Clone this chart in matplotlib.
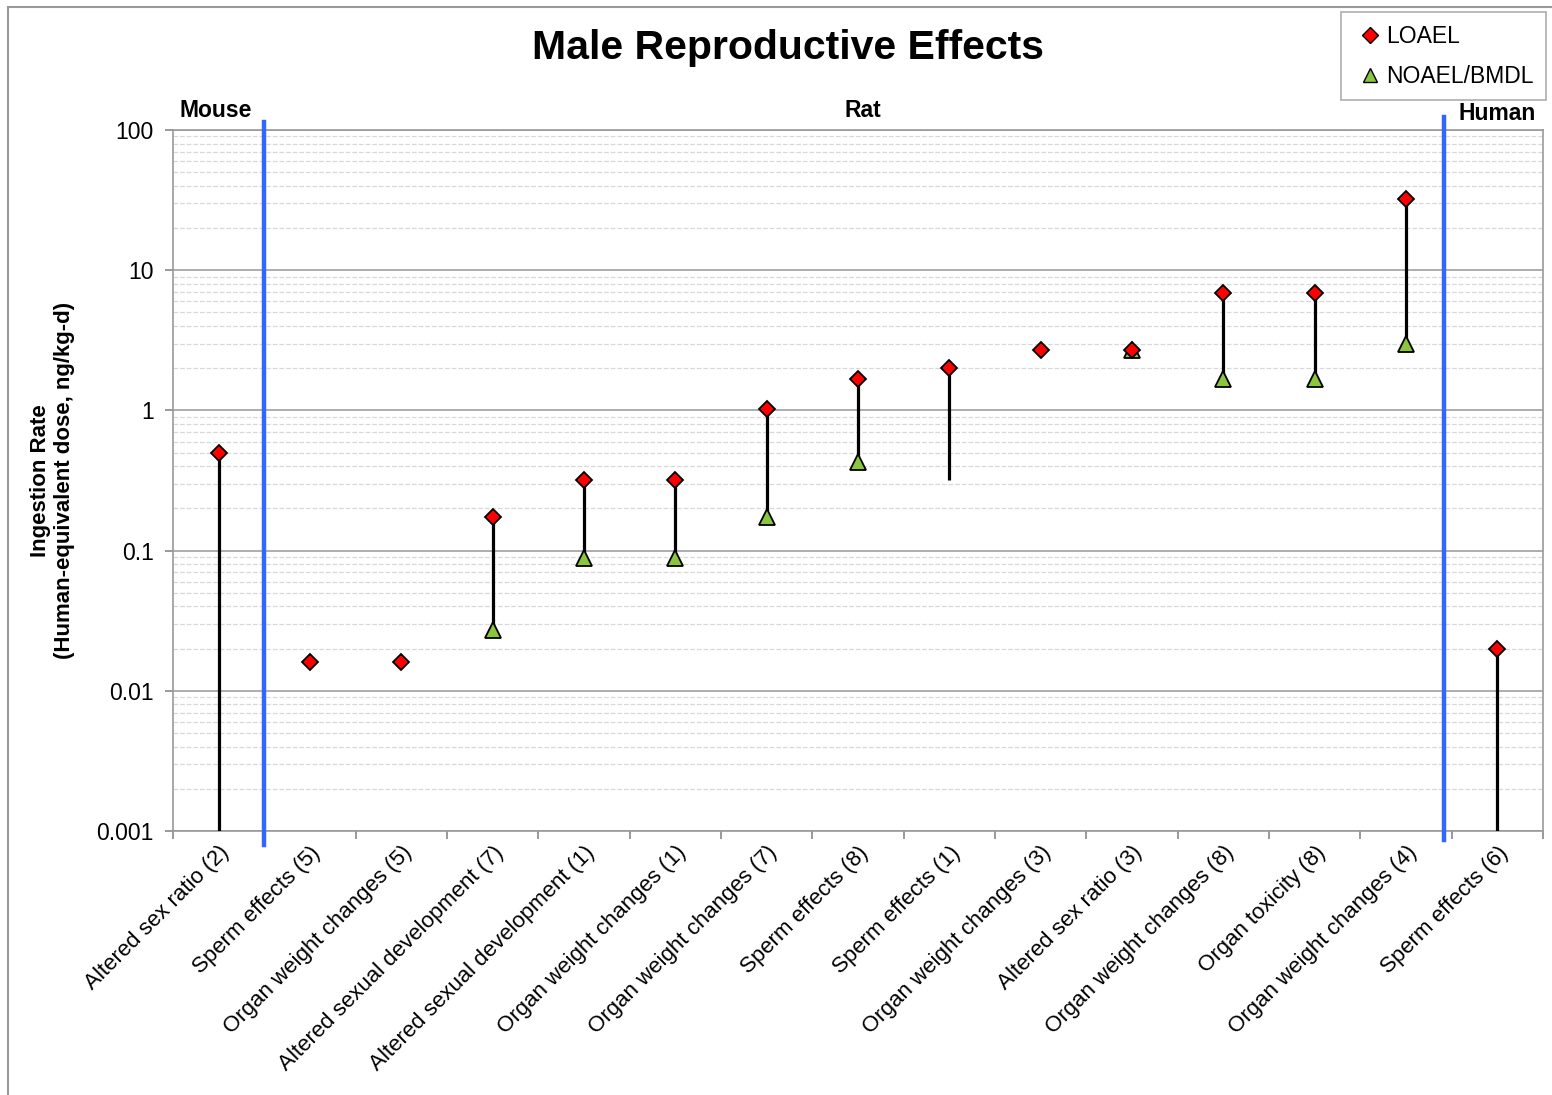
import numpy as np
import matplotlib.pyplot as plt
from matplotlib.lines import Line2D
from matplotlib.patches import Rectangle
from matplotlib.ticker import FixedLocator, NullFormatter, LogLocator

plt.rcParams['font.family'] = ['Liberation Sans', 'DejaVu Sans']

categories = [
    "Altered sex ratio (2)", "Sperm effects (5)", "Organ weight changes (5)",
    "Altered sexual development (7)", "Altered sexual development (1)",
    "Organ weight changes (1)", "Organ weight changes (7)", "Sperm effects (8)",
    "Sperm effects (1)", "Organ weight changes (3)", "Altered sex ratio (3)",
    "Organ weight changes (8)", "Organ toxicity (8)", "Organ weight changes (4)",
    "Sperm effects (6)",
]
loael = [0.5, 0.016, 0.016, 0.175, 0.32, 0.32, 1.03, 1.67, 2.0, 2.7, 2.7,
         6.9, 6.9, 32, 0.02]
noael = [np.nan, np.nan, np.nan, 0.027, 0.088, 0.088, 0.175, 0.43, np.nan,
         np.nan, 2.7, 1.67, 1.67, 3.0, np.nan]
# lower end of the vertical range line (nan = no line)
range_low = [0.001, np.nan, np.nan, 0.027, 0.088, 0.088, 0.175, 0.43, 0.32,
             np.nan, 2.7, 1.67, 1.67, 3.0, 0.001]
species = ["Mouse", "Rat", "Human"]
species_x = [0.97, 8.05, 15]
divider_x = [1.5, 14.42]

x = np.arange(1, len(categories) + 1)
loael = np.array(loael)
noael = np.array(noael)
range_low = np.array(range_low)

fig = plt.figure(figsize=(15.52, 10.95), dpi=100)
ax = fig.add_axes([173 / 1552, 1 - 831 / 1095, 1370 / 1552, 701 / 1095])

ax.set_yscale('log')
ax.set_ylim(0.001, 100)
ax.set_xlim(0.5, len(categories) + 0.5)

# grid
ax.yaxis.set_major_locator(FixedLocator([0.001, 0.01, 0.1, 1, 10, 100]))
ax.yaxis.set_minor_locator(LogLocator(base=10, subs=np.arange(2, 10)))
ax.yaxis.set_minor_formatter(NullFormatter())
ax.set_yticklabels(["0.001", "0.01", "0.1", "1", "10", "100"], fontsize=16.5)
ax.grid(axis='y', which='major', color='#a0a0a0', lw=1.2)
ax.grid(axis='y', which='minor', color='#d8d8d8', lw=0.9, ls='--')
ax.set_axisbelow(True)
ax.tick_params(axis='y', which='major', length=6, color='#888888', width=1.2,
               pad=8)
ax.tick_params(axis='y', which='minor', length=0)

ax.set_xticks(x)
ax.set_xticklabels(categories, rotation=45, ha='right', va='top',
                   rotation_mode='anchor', fontsize=16)
ax.set_xticks(np.arange(0.5, len(categories) + 1), minor=True)
ax.tick_params(axis='x', which='major', length=0, pad=8)
ax.tick_params(axis='x', which='minor', length=6, color='#888888', width=1.2)

for s in ax.spines.values():
    s.set_color('#999999')
    s.set_linewidth(1.2)

# range lines
has_line = ~np.isnan(range_low)
ax.vlines(x[has_line], range_low[has_line], loael[has_line], color='black',
          lw=2.3, zorder=3)

ax.plot(x, noael, ls='none', marker='^', ms=12, mfc='#8cc63f', mec='black',
        mew=1.3, zorder=4)
ax.plot(x, loael, ls='none', marker='D', ms=8.5, mfc='#ff0000', mec='black',
        mew=1.3, zorder=5)

# species dividers
ax.plot([divider_x[0]] * 2, [1.0114, -0.02], color='#3366ff', lw=3.2,
        transform=ax.get_xaxis_transform(), clip_on=False, zorder=6)
ax.plot([divider_x[1]] * 2, [1.0185, -0.0128], color='#3366ff', lw=3.2,
        transform=ax.get_xaxis_transform(), clip_on=False, zorder=6)

for name, sx in zip(species, species_x):
    yy = 1.007 if name == "Human" else 1.011
    ax.text(sx, yy, name, transform=ax.get_xaxis_transform(), ha='center',
            va='bottom', fontsize=16.5, fontweight='bold')

ax.set_ylabel("Ingestion Rate\n(Human-equivalent dose, ng/kg-d)",
              fontsize=16, fontweight='bold', labelpad=15)

fig.text(788 / 1552, 1 - 48 / 1095, "Male Reproductive Effects", ha='center',
         va='center', fontsize=29.5, fontweight='bold')

handles = [
    Line2D([], [], ls='none', marker='D', ms=8, mfc='#ff0000', mec='black',
           mew=1.0),
    Line2D([], [], ls='none', marker='^', ms=10, mfc='#8cc63f', mec='black',
           mew=1.0),
]
leg = fig.legend(handles, ["LOAEL", "NOAEL/BMDL"], loc='upper left',
                 bbox_to_anchor=(1341 / 1552, 1 - 12 / 1095), fontsize=16.5,
                 frameon=True, fancybox=False, edgecolor='#999999',
                 handlelength=1.4, handletextpad=0.0, labelspacing=0.75,
                 borderpad=0.55, borderaxespad=0)
leg.get_frame().set_linewidth(1.2)

fig.patches.append(Rectangle((8 / 1552, -0.1), 1.2, 1.1 - 7 / 1095,
                             transform=fig.transFigure, fill=False,
                             edgecolor='#999999', lw=1.5))

fig.savefig("out.png", dpi=100)
